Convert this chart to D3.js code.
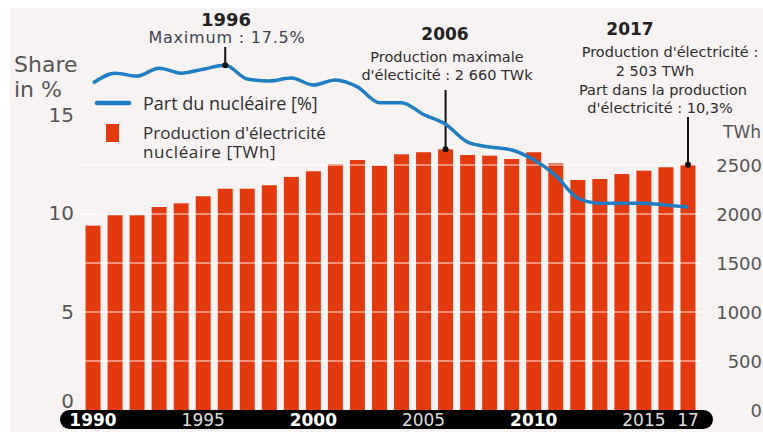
<!DOCTYPE html>
<html>
<head>
<meta charset="utf-8">
<script src="https://cdn.jsdelivr.net/npm/d3@7"></script>
<style>
  body { margin: 0; background: #fff; }
  svg text { font-family: "DejaVu Sans", sans-serif; }
  .ann { font-family: "DejaVu Sans", sans-serif; fill: #2e2e2e; }
  .leg { font-family: "Open Sans", "Noto Sans", sans-serif; fill: #2e2e2e; }
</style>
</head>
<body>
<svg id="chart" width="763" height="432"></svg>
<script>
// years 1990..2017
const years = [1990, 1991, 1992, 1993, 1994, 1995, 1996, 1997, 1998, 1999,
               2000, 2001, 2002, 2003, 2004, 2005, 2006, 2007, 2008, 2009,
               2010, 2011, 2012, 2013, 2014, 2015, 2016, 2017];

// nuclear electricity production, TWh
const production = [1881, 1987, 1987, 2071, 2109, 2181, 2258, 2258, 2293, 2378,
                    2436, 2507, 2551, 2493, 2609, 2630, 2660, 2602, 2595, 2561,
                    2630, 2517, 2347, 2357, 2408, 2442, 2477, 2503];

// nuclear share of electricity production, %
const share = [16.6, 17.1, 16.95, 17.35, 17.1, 17.3, 17.5, 16.8, 16.7, 16.85,
               16.5, 16.75, 16.4, 15.6, 15.6, 15.0, 14.5, 13.6, 13.35, 13.2,
               12.7, 11.9, 10.75, 10.5, 10.5, 10.5, 10.4, 10.3];

const leftTicks = [0, 5, 10, 15];
const rightTicks = [0, 500, 1000, 1500, 2000, 2500];
const yearLabels = [
  { year: 1990, text: "1990", strong: true },
  { year: 1995, text: "1995", strong: false },
  { year: 2000, text: "2000", strong: true },
  { year: 2005, text: "2005", strong: false },
  { year: 2010, text: "2010", strong: true },
  { year: 2015, text: "2015", strong: false },
  { year: 2017, text: "17", strong: false }
];

const svg = d3.select('#chart');

const x = d3.scaleBand()
    .domain(years)
    .range([82, 699])
    .paddingInner(0.32)
    .paddingOuter(0.16);
const yL = d3.scaleLinear().domain([0, 15]).range([410, 114.5]);
const yR = d3.scaleLinear().domain([0, 2500]).range([410, 165]);
const cx = d => x(d) + x.bandwidth() / 2;

// background panel
svg.append('rect')
    .attr('x', 10).attr('y', 8)
    .attr('width', 753).attr('height', 424)
    .attr('fill', '#f7f3f2');

// bars
svg.append('g')
  .selectAll('rect')
  .data(years)
  .join('rect')
    .attr('x', d => x(d))
    .attr('y', (d, i) => yR(production[i]))
    .attr('width', x.bandwidth())
    .attr('height', (d, i) => yR(0) - yR(production[i]))
    .attr('fill', '#e3390f');

// white grid lines over bars
svg.append('g')
  .selectAll('line')
  .data(rightTicks.filter(t => t > 0))
  .join('line')
    .attr('x1', 80).attr('x2', 702)
    .attr('y1', d => yR(d)).attr('y2', d => yR(d))
    .attr('stroke', '#fff')
    .attr('stroke-opacity', 0.6)
    .attr('stroke-width', 1.5);

// left axis labels
svg.append('g')
  .selectAll('text')
  .data(leftTicks)
  .join('text')
    .attr('x', 74)
    .attr('y', d => Math.min(yL(d) + 7, 408))
    .attr('text-anchor', 'end')
    .attr('font-size', 20)
    .attr('fill', '#555')
    .text(d => d);

svg.append('text').attr('x', 14).attr('y', 72)
    .attr('font-size', 22).attr('fill', '#555').text('Share');
svg.append('text').attr('x', 14).attr('y', 97)
    .attr('font-size', 22).attr('fill', '#555').text('in %');

// right axis labels
svg.append('g')
  .selectAll('text')
  .data(rightTicks)
  .join('text')
    .attr('x', 762)
    .attr('y', d => yR(d) + 7)
    .attr('text-anchor', 'end')
    .attr('font-size', 18)
    .attr('fill', '#555')
    .text(d => d);

svg.append('text').attr('x', 723).attr('y', 138)
    .attr('font-size', 17).attr('fill', '#555').text('TWh');

// annotation ticks (drawn under the line)
const i1996 = years.indexOf(1996);
const i2006 = years.indexOf(2006);
const i2017 = years.indexOf(2017);
const ticks = [
  { x: cx(1996), y1: 47, y2: yL(share[i1996]) },
  { x: cx(2006), y1: 90, y2: yR(production[i2006]) },
  { x: cx(2017), y1: 117, y2: yR(production[i2017]) }
];
svg.append('g')
  .selectAll('line')
  .data(ticks)
  .join('line')
    .attr('x1', d => d.x).attr('x2', d => d.x)
    .attr('y1', d => d.y1).attr('y2', d => d.y2)
    .attr('stroke', '#111')
    .attr('stroke-width', 2);

// share line
const line = d3.line()
    .x((d, i) => cx(years[i]))
    .y(d => yL(d))
    .curve(d3.curveMonotoneX);

svg.append('path')
    .datum(share)
    .attr('d', line)
    .attr('fill', 'none')
    .attr('stroke', '#1f7dc4')
    .attr('stroke-width', 3.5)
    .attr('stroke-linejoin', 'round');

svg.append('g')
  .selectAll('circle')
  .data(ticks)
  .join('circle')
    .attr('cx', d => d.x).attr('cy', d => d.y2)
    .attr('r', 3)
    .attr('fill', '#111');

// x axis band
svg.append('rect')
    .attr('x', 60).attr('y', 410)
    .attr('width', 653).attr('height', 19)
    .attr('rx', 9.5)
    .attr('fill', '#000');

svg.append('g')
  .selectAll('text')
  .data(yearLabels)
  .join('text')
    .attr('x', d => cx(d.year))
    .attr('y', 426)
    .attr('text-anchor', 'middle')
    .attr('font-size', 17)
    .attr('font-weight', d => d.strong ? 'bold' : 'normal')
    .attr('fill', d => d.strong ? '#fff' : '#ddd')
    .text(d => d.text);

// legend
svg.append('line')
    .attr('x1', 97).attr('x2', 129)
    .attr('y1', 103).attr('y2', 103)
    .attr('stroke', '#1f7dc4')
    .attr('stroke-width', 4.5)
    .attr('stroke-linecap', 'round');
svg.append('text').attr('class', 'leg')
    .attr('x', 143).attr('y', 110).attr('font-size', 18)
    .text('Part du nucléaire [%]');
svg.append('rect')
    .attr('x', 106).attr('y', 124)
    .attr('width', 13).attr('height', 18)
    .attr('fill', '#e3390f');
svg.append('text').attr('class', 'leg')
    .attr('x', 143).attr('y', 139).attr('font-size', 17)
    .text("Production d'électricité");
svg.append('text').attr('class', 'leg')
    .attr('x', 143).attr('y', 158).attr('font-size', 17)
    .attr('letter-spacing', 0.6)
    .text('nucléaire [TWh]');

// annotations
const ann = svg.append('g').attr('text-anchor', 'middle');
ann.append('text').attr('x', 226).attr('y', 26)
    .attr('font-size', 18).attr('font-weight', 'bold').attr('fill', '#222')
    .text('1996');
ann.append('text').attr('x', 227).attr('y', 43)
    .attr('font-size', 16).attr('letter-spacing', 0.8).attr('fill', '#3d4450')
    .text('Maximum : 17.5%');

ann.append('text').attr('x', 445).attr('y', 40)
    .attr('font-size', 17).attr('font-weight', 'bold').attr('fill', '#222')
    .text('2006');
ann.append('text').attr('class', 'ann').attr('x', 447).attr('y', 62)
    .attr('font-size', 14.5).text('Production maximale');
ann.append('text').attr('class', 'ann').attr('x', 447).attr('y', 80)
    .attr('font-size', 14.5).text("d'électicité : 2 660 TWk");

ann.append('text').attr('x', 630).attr('y', 35)
    .attr('font-size', 17).attr('font-weight', 'bold').attr('fill', '#222')
    .text('2017');
ann.append('text').attr('class', 'ann').attr('x', 670).attr('y', 57)
    .attr('font-size', 14.5).text("Production d'électricité :");
ann.append('text').attr('class', 'ann').attr('x', 655).attr('y', 76)
    .attr('font-size', 14.5).text('2 503 TWh');
ann.append('text').attr('class', 'ann').attr('x', 663).attr('y', 95)
    .attr('font-size', 14.5).text('Part dans la production');
ann.append('text').attr('class', 'ann').attr('x', 660).attr('y', 113)
    .attr('font-size', 14.5).text("d'électricité : 10,3%");
</script>
</body>
</html>
